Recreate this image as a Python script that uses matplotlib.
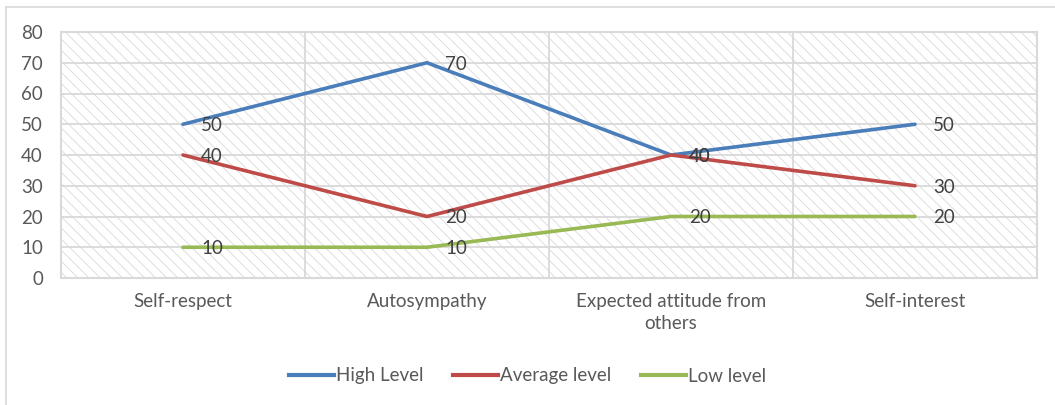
import matplotlib.pyplot as plt
from matplotlib.patches import Rectangle
from matplotlib.lines import Line2D

# chart data
categories = ["Self-respect", "Autosympathy", "Expected attitude from\nothers", "Self-interest"]
high_level = [50, 70, 40, 50]
average_level = [40, 20, 40, 30]
low_level = [10, 10, 20, 20]
series_names = ["High Level", "Average level", "Low level"]
y_ticks = [0, 10, 20, 30, 40, 50, 60, 70, 80]

colors = ["#4A7EBB", "#BE4B48", "#98B954"]
grey = "#D9D9D9"
txt = "#595959"

plt.rcParams['font.family'] = ['Lato', 'DejaVu Sans']
plt.rcParams['hatch.linewidth'] = 0.6

fig = plt.figure(figsize=(10.55, 4.05), dpi=100)
ax = fig.add_axes([61/1055, 1 - 278/405, (1037-61)/1055, (278-32)/405])

x = list(range(len(categories)))
ax.set_xlim(-0.5, len(categories) - 0.5)
ax.set_ylim(0, 80)

# hatched plot background
ax.add_patch(Rectangle((0, 0), 1, 1, transform=ax.transAxes, facecolor='white',
                       edgecolor=grey, hatch='\\\\\\', lw=0, zorder=0))

# gridlines
for v in y_ticks[1:]:
    ax.axhline(v, color=grey, lw=1.3, zorder=1)
for b in [0.5, 1.5, 2.5]:
    ax.axvline(b, color=grey, lw=1.3, zorder=1)
for s in ax.spines.values():
    s.set_color(grey)
    s.set_linewidth(1.5)

all_series = [high_level, average_level, low_level]
for vals, c, name in zip(all_series, colors, series_names):
    ax.plot(x, vals, color=c, lw=2.6, solid_capstyle='round', zorder=3, label=name)
    for xi, v in zip(x, vals):
        ax.annotate(str(v), (xi, v), xytext=(13, -1), textcoords='offset points',
                    va='center', ha='left', fontsize=13.5, color='#404040', zorder=4)

ax.set_yticks(y_ticks)
ax.set_xticks(x)
ax.set_xticklabels(categories, linespacing=1.35)
ax.tick_params(axis='y', length=0, pad=13, labelsize=13.5, labelcolor=txt)
ax.tick_params(axis='x', length=0, pad=11, labelsize=13.5, labelcolor=txt)

handles = [Line2D([0], [0], color=c, lw=3) for c in colors]
leg = fig.legend(handles, series_names, loc='center', bbox_to_anchor=(0.5, 1 - 376/405),
                 ncol=3, frameon=False, fontsize=13.5, handlelength=2.4, handletextpad=0.1,
                 columnspacing=1.6)
for t in leg.get_texts():
    t.set_color(txt)

# outer chart border
fig.add_artist(Line2D([6/1055, 6/1055], [0, 1 - 7/405], color=grey, lw=1.2))
fig.add_artist(Line2D([6/1055, 1], [1 - 7/405, 1 - 7/405], color=grey, lw=1.2))

fig.savefig("out.png", dpi=100)
